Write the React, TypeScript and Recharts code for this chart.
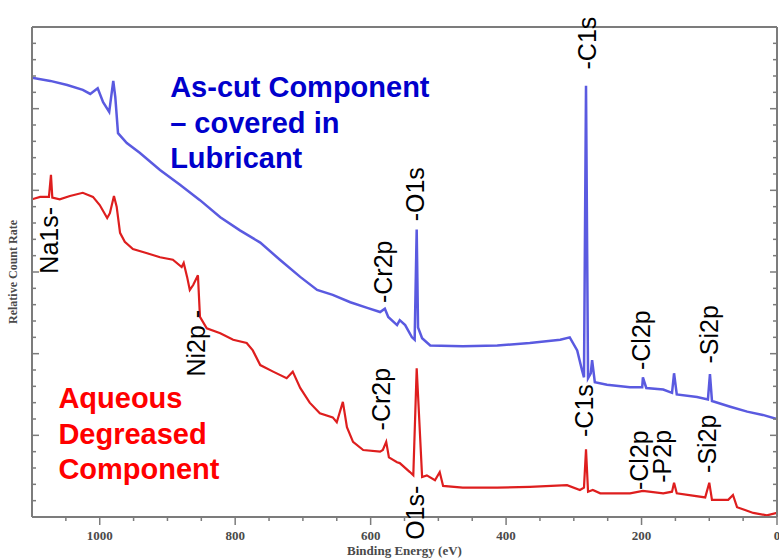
import { LineChart, Line, XAxis, YAxis, ReferenceDot, ReferenceLine } from 'recharts'

// As-cut component (blue trace), binding energy in eV
const blueEnergy = [1100, 1073, 1048, 1025, 1014, 1003, 995, 986, 980, 977, 973, 960, 941, 911, 882, 852, 822, 793, 763, 734, 704, 679, 656, 630, 605, 586, 579, 574, 561, 557, 549, 539, 535, 532, 530, 524, 512, 464, 413, 365, 320, 306, 295, 288, 285, 282, 279, 275, 273, 269, 251, 217, 199, 198, 193, 168, 155, 152, 148, 118, 102, 99, 96, 69, 44, 21, 0]
const blueCounts = [26.9, 26.7, 26.45, 26.15, 25.9, 26.25, 25.4, 24.8, 26.7, 25.7, 23.5, 22.9, 22.3, 21.25, 20.35, 19.4, 18.35, 17.55, 16.8, 15.75, 14.7, 13.9, 13.6, 13.15, 12.8, 12.55, 12.75, 12.25, 11.75, 12.05, 11.75, 11.0, 10.85, 17.6, 11.6, 10.95, 10.5, 10.45, 10.5, 10.65, 10.85, 11.0, 10.2, 9.0, 8.55, 26.4, 8.5, 8.8, 9.6, 8.25, 8.1, 7.95, 7.95, 8.55, 7.9, 7.8, 7.6, 8.8, 7.5, 7.35, 7.2, 8.75, 7.1, 6.75, 6.45, 6.25, 6.0]

// Aqueous degreased component (red trace)
const redEnergy = [1100, 1088, 1075, 1072, 1070, 1059, 1044, 1025, 1010, 1000, 989, 985, 979, 975, 970, 963, 951, 930, 911, 892, 879, 876, 871, 867, 862, 855, 852, 842, 822, 803, 783, 774, 763, 744, 724, 715, 704, 690, 675, 656, 650, 641, 635, 626, 611, 586, 582, 577, 573, 561, 557, 542, 537, 532, 530, 524, 517, 505, 498, 493, 464, 413, 365, 310, 291, 285, 282, 279, 272, 261, 217, 198, 168, 155, 152, 148, 106, 100, 96, 72, 65, 59, 35, 15, 0]
const redCounts = [19.45, 19.6, 19.6, 20.95, 19.55, 19.45, 19.65, 19.85, 19.6, 19.1, 18.3, 18.6, 19.65, 19.0, 17.4, 16.85, 16.4, 16.15, 15.9, 15.75, 15.3, 15.55, 14.7, 13.9, 14.2, 14.8, 12.25, 11.55, 11.25, 10.85, 10.65, 10.2, 9.3, 8.9, 8.5, 8.9, 7.9, 7.0, 6.35, 6.1, 5.8, 7.05, 5.5, 4.6, 4.1, 4.0, 4.1, 4.6, 3.65, 3.35, 3.3, 2.75, 2.55, 9.1, 7.45, 2.45, 2.55, 2.25, 2.75, 1.9, 1.8, 1.8, 1.85, 1.95, 1.65, 1.8, 4.15, 1.55, 1.65, 1.45, 1.45, 1.6, 1.45, 1.55, 2.1, 1.45, 1.2, 2.1, 1.05, 1.05, 1.35, 0.6, 0.25, 0.1, 0.25]

const xTicks = [0, 50, 100, 150, 200, 250, 300, 350, 400, 450, 500, 550, 600, 650, 700, 750, 800, 850, 900, 950, 1000, 1050]
const xLabelled = [0, 200, 400, 600, 800, 1000]
const yTicks = [0, 1, 2, 3, 4, 5, 6, 7, 8, 9, 10, 11, 12, 13, 14, 15, 16, 17, 18, 19, 20, 21, 22, 23, 24, 25, 26, 27, 28, 29, 30]

// peak labels: text, energy position, level where the text starts
const peakText = ['Na1s-', 'Ni2p -', '-Cr2p', '-O1s', '-C1s', '-Cl2p', '-Si2p', '-Cr2p', 'O1s-', '-C1s', '-Cl2p', '-P2p', '-Si2p']
const peakEnergy = [1075, 858, 582, 534, 280, 201, 100, 585, 534, 285, 204, 170, 103]
const peakLevel = [14.9, 8.6, 13.1, 18.1, 27.4, 9.0, 9.4, 5.3, -1.4, 4.9, 1.65, 2.1, 2.7]

const blueTitle = ['As-cut Component', '– covered in', 'Lubricant']
const redTitle = ['Aqueous', 'Degreased', 'Component']

const AXIS = '#7c7c7c'
const AXIS_TEXT = '#4a4a4a'
const BLUE_LINE = '#5a5ae0'
const RED_LINE = '#de1e1e'
const SERIF = "'Liberation Serif', 'Times New Roman', serif"
const SANS = "'Liberation Sans', Arial, sans-serif"

const blueData = blueEnergy.map((e, i) => ({ energy: e, count: blueCounts[i] }))
const redData = redEnergy.map((e, i) => ({ energy: e, count: redCounts[i] }))

const XTick = ({ x, y, payload }: any) => {
    const major = xLabelled.includes(payload.value)
    return (
        <g>
            <line x1={x} y1={y} x2={x} y2={y + (major ? 8 : 4)} stroke={AXIS} strokeWidth={1.5} />
            {major && (
                <text x={x} y={y + 23} textAnchor="middle" fontSize={13} fontWeight="bold" fontFamily={SERIF} fill={AXIS_TEXT}>
                    {payload.value}
                </text>
            )}
        </g>
    )
}

const YTick = ({ x, y, payload, side }: any) => {
    const len = payload.value % 5 === 0 ? 7 : 4
    const dir = side === 'right' ? -1 : 1
    return <line x1={x} y1={y} x2={x + dir * len} y2={y} stroke={AXIS} strokeWidth={1.5} />
}

const PeakLabel = ({ cx, cy, text }: any) => (
    <text x={cx} y={cy} dy="0.36em" transform={`rotate(-90 ${cx} ${cy})`} fontSize={25} fontFamily={SANS} fill="#000">
        {text}
    </text>
)

const TitleBlock = ({ cx, cy, lines, color }: any) => (
    <text x={cx} y={cy} fontSize={29} fontWeight="bold" fontFamily={SANS} fill={color}>
        {lines.map((l: string, i: number) => (
            <tspan key={i} x={cx} dy={i === 0 ? 0 : 35.5}>
                {l}
            </tspan>
        ))}
    </text>
)

export default function App() {
    return (
        <div style={{ position: 'absolute', left: 0, top: 0, width: 779, height: 558, background: '#fff' }}>
            <LineChart width={779} height={558} margin={{ top: 27, right: 0, bottom: 0, left: 0 }}>
                <XAxis
                    xAxisId="e"
                    type="number"
                    dataKey="energy"
                    domain={[0, 1100]}
                    reversed
                    allowDataOverflow
                    ticks={xTicks}
                    interval={0}
                    tickSize={0}
                    tickMargin={0}
                    tickLine={false}
                    tick={(p: any) => <XTick {...p} />}
                    axisLine={{ stroke: AXIS, strokeWidth: 2 }}
                    height={41}
                    label={(p: any) => {
                        const vb = p.viewBox
                        return (
                            <text x={vb.x + vb.width / 2} y={vb.y + 38} textAnchor="middle" fontSize={13} fontWeight="bold" fontFamily={SERIF} fill={AXIS_TEXT}>
                                Binding Energy (eV)
                            </text>
                        )
                    }}
                />
                <YAxis
                    yAxisId="c"
                    type="number"
                    domain={[0, 30]}
                    allowDataOverflow
                    ticks={yTicks}
                    interval={0}
                    width={32}
                    tickSize={0}
                    tickMargin={0}
                    tickLine={false}
                    tick={(p: any) => <YTick {...p} side="left" />}
                    axisLine={{ stroke: AXIS, strokeWidth: 2 }}
                    label={(p: any) => {
                        const vb = p.viewBox
                        const cx = vb.x + 13
                        const cy = vb.y + vb.height / 2
                        return (
                            <text x={cx} y={cy} dy="0.35em" textAnchor="middle" transform={`rotate(-90 ${cx} ${cy})`} fontSize={12} fontWeight="bold" fontFamily={SERIF} fill={AXIS_TEXT}>
                                Relative Count Rate
                            </text>
                        )
                    }}
                />
                <YAxis
                    yAxisId="r"
                    orientation="right"
                    type="number"
                    domain={[0, 30]}
                    allowDataOverflow
                    ticks={yTicks}
                    interval={0}
                    width={2}
                    tickSize={0}
                    tickMargin={0}
                    tickLine={false}
                    tick={(p: any) => <YTick {...p} side="right" />}
                    axisLine={{ stroke: AXIS, strokeWidth: 2 }}
                />
                <ReferenceLine xAxisId="e" yAxisId="c" y={30} stroke={AXIS} strokeWidth={2} />
                <Line xAxisId="e" yAxisId="c" data={blueData} dataKey="count" type="linear" stroke={BLUE_LINE} strokeWidth={2.5} dot={false} isAnimationActive={false} />
                <Line xAxisId="e" yAxisId="c" data={redData} dataKey="count" type="linear" stroke={RED_LINE} strokeWidth={2.2} dot={false} isAnimationActive={false} />
                {peakText.map((t, i) => (
                    <ReferenceDot
                        key={`pk-${i}`}
                        xAxisId="e"
                        yAxisId="c"
                        x={peakEnergy[i]}
                        y={peakLevel[i]}
                        r={0}
                        ifOverflow="visible"
                        shape={(p: any) => <PeakLabel {...p} text={t} />}
                    />
                ))}
                <ReferenceDot xAxisId="e" yAxisId="c" x={896} y={25.7} r={0} ifOverflow="visible" shape={(p: any) => <TitleBlock {...p} lines={blueTitle} color="#0000cc" />} />
                <ReferenceDot xAxisId="e" yAxisId="c" x={1061} y={6.65} r={0} ifOverflow="visible" shape={(p: any) => <TitleBlock {...p} lines={redTitle} color="#ff0000" />} />
            </LineChart>
        </div>
    )
}
